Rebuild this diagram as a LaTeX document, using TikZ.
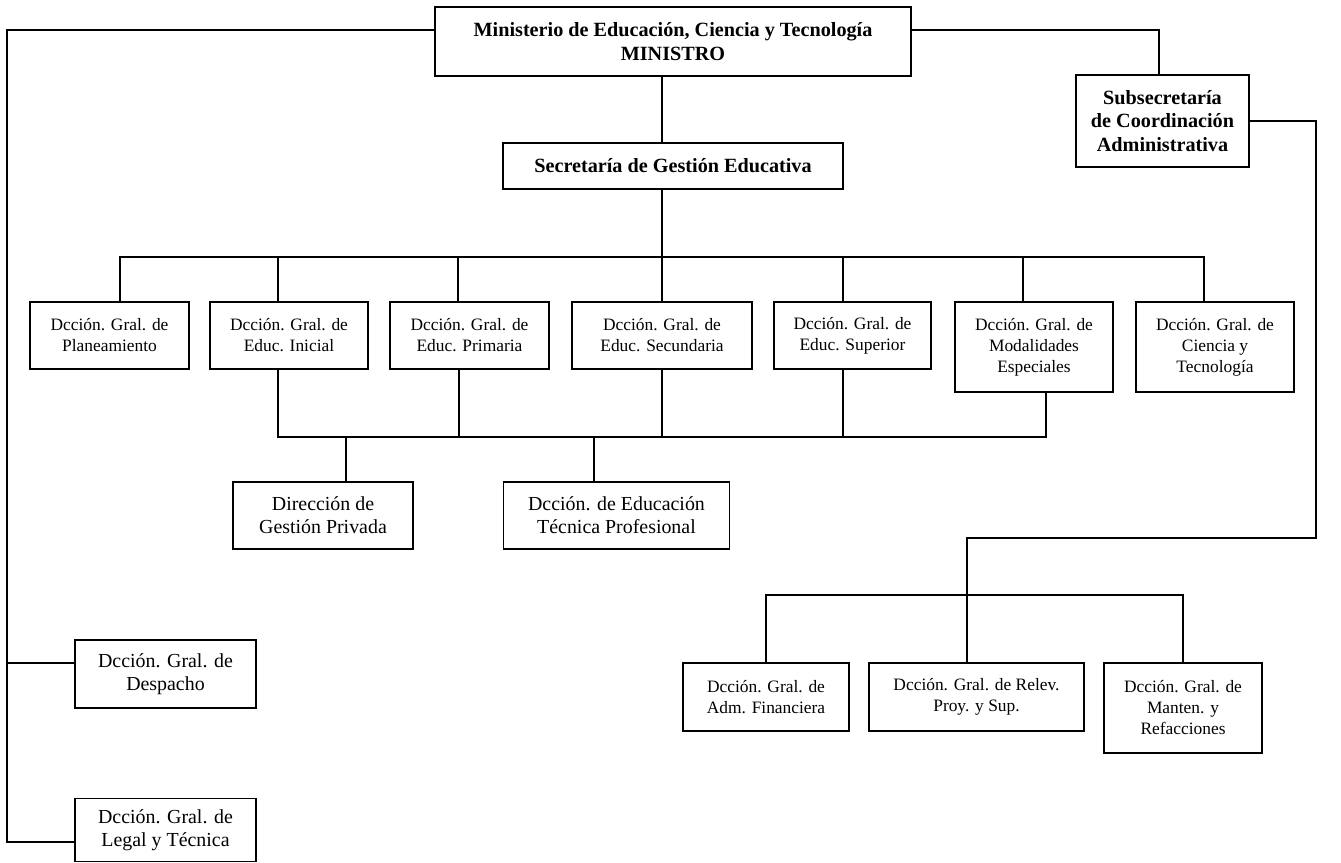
\documentclass[tikz,border=0pt]{standalone}
\usepackage{fontspec}
\setmainfont{Liberation Serif}
\usetikzlibrary{calc}
\begin{document}
\begin{tikzpicture}[x=1pt,y=-1pt,
  box/.style={draw,line width=1.8pt,inner sep=0pt,align=center,
    font=\fontsize{17.4}{21}\selectfont},
  lbox/.style={box,font=\fontsize{19.9}{23}\selectfont},
  bbox/.style={box,font=\fontsize{20.2}{23.5}\selectfont\bfseries},
  conn/.style={line width=1.8pt}]
\useasboundingbox (0,0) rectangle (1341,862);
% top level
\node[bbox,minimum width=476pt,minimum height=69pt] (min) at (673,41.5)
  {Ministerio de Educación, Ciencia y Tecnología\\MINISTRO};
\node[bbox,minimum width=173pt,minimum height=92pt] (sub) at (1162.5,121)
  {Subsecretaría\\de Coordinación\\Administrativa};
\node[bbox,minimum width=340pt,minimum height=46pt] (sec) at (673,166)
  {Secretaría de Gestión Educativa};
% row of direcciones
\node[box,minimum width=159pt,minimum height=67pt] (plan) at (109.5,335.5) {Dcción. Gral. de\\Planeamiento};
\node[box,minimum width=158pt,minimum height=67pt] (ini) at (289,335.5) {Dcción. Gral. de\\Educ. Inicial};
\node[box,minimum width=159pt,minimum height=67pt] (pri) at (469.5,335.5) {Dcción. Gral. de\\Educ. Primaria};
\node[box,minimum width=180pt,minimum height=67pt] (secu) at (662,335.5) {Dcción. Gral. de\\Educ. Secundaria};
\node[box,minimum width=157pt,minimum height=67pt] (sup) at (852.5,335.5) {Dcción. Gral. de\\Educ. Superior};
\node[box,minimum width=158pt,minimum height=90pt] (mod) at (1034,347) {Dcción. Gral. de\\Modalidades\\Especiales};
\node[box,minimum width=158pt,minimum height=90pt] (cie) at (1215,347) {Dcción. Gral. de\\Ciencia y\\Tecnología};
% second level
\node[lbox,minimum width=180pt,minimum height=67pt] (priv) at (323,515.5) {Dirección de\\Gestión Privada};
\node[lbox,minimum width=226pt,minimum height=67pt] (tec) at (616.5,515.5) {Dcción. de Educación\\Técnica Profesional};
% left side
\node[lbox,minimum width=181pt,minimum height=68pt] (desp) at (165.5,674) {Dcción. Gral. de\\Despacho};
\node[lbox,minimum width=181pt,minimum height=63pt] (legal) at (165.5,830) {Dcción. Gral. de\\Legal y Técnica};
% right bottom
\node[box,minimum width=166pt,minimum height=68pt] (adm) at (766,697) {Dcción. Gral. de\\Adm. Financiera};
\node[box,minimum width=215pt,minimum height=68pt] (rel) at (976.5,697) {Dcción. Gral. de Relev.\\Proy. y Sup.};
\node[box,minimum width=158pt,minimum height=90pt] (man) at (1183,708) {Dcción. Gral. de\\Manten. y\\Refacciones};

% connectors: minister
\coordinate (lt) at (7,30);
\coordinate (ld) at (7,663);
\coordinate (lb) at (7,842);
\draw[conn] (min.west |- lt) -- (lt) -- (lb) -- (lb -| legal.west);
\draw[conn] (ld) -- (ld -| desp.west);
\coordinate (rt) at (1159,30);
\draw[conn] (min.east |- rt) -- (rt) -- (rt |- sub.north);
% central spine
\coordinate (tb) at (662,257);
\draw[conn] (tb |- min.south) -- (tb |- sec.north);
\draw[conn] (tb |- sec.south) -- (tb);
% secretaria bus
\coordinate (d1) at ($(plan.north)+(10.5,0)$);
\coordinate (d2) at ($(ini.north)+(-11,0)$);
\coordinate (d3) at ($(pri.north)+(-11.5,0)$);
\coordinate (d4) at (secu.north);
\coordinate (d5) at ($(sup.north)+(-9.5,0)$);
\coordinate (d6) at ($(mod.north)+(-11,0)$);
\coordinate (d7) at ($(cie.north)+(-11,0)$);
\draw[conn] (d1) -- (d1 |- tb) -- (d7 |- tb) -- (d7);
\foreach \d in {d2,d3,d4,d5,d6} \draw[conn] (\d) -- (\d |- tb);
% lower bus
\coordinate (mb) at (662,437);
\coordinate (u1) at ($(ini.south)+(-11,0)$);
\coordinate (u2) at ($(pri.south)+(-10.5,0)$);
\coordinate (u3) at (secu.south);
\coordinate (u4) at ($(sup.south)+(-9.5,0)$);
\coordinate (u5) at ($(mod.south)+(12,0)$);
\draw[conn] (u1) -- (u1 |- mb) -- (u5 |- mb) -- (u5);
\foreach \u in {u2,u3,u4} \draw[conn] (\u) -- (\u |- mb);
\coordinate (g1) at ($(priv.north)+(23,0)$);
\coordinate (g2) at ($(tec.north)+(-22.5,0)$);
\draw[conn] (g1) -- (g1 |- mb);
\draw[conn] (g2) -- (g2 |- mb);
% subsecretaria
\coordinate (r1) at (1316,121);
\coordinate (r2) at (1316,538);
\coordinate (r3) at (967,538);
\coordinate (bb) at (967,595);
\draw[conn] (sub.east) -- (r1) -- (r2) -- (r3) -- (r3 |- rel.north);
\draw[conn] (adm.north) -- (adm.north |- bb) -- (man.north |- bb) -- (man.north);
\end{tikzpicture}
\end{document}
